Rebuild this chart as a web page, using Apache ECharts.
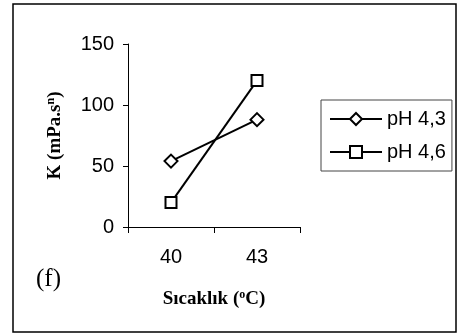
<!DOCTYPE html>
<html>
<head>
<meta charset="utf-8">
<script src="https://cdn.jsdelivr.net/npm/echarts@6/dist/echarts.min.js"></script>
<style>
  html, body { margin: 0; padding: 0; background: #fff; }
  #chart { width: 458px; height: 335px; }
</style>
</head>
<body>
<div id="chart"></div>
<script>
// Temperature categories (°C) and consistency coefficient K per pH level
const temperatures = ['40', '43'];
const kPh43 = [54, 88];
const kPh46 = [20, 120];
const seriesNames = ['pH 4,3', 'pH 4,6'];

const chart = echarts.init(document.getElementById('chart'), null, { renderer: 'canvas' });

const lineStyle = { color: '#000', width: 2 };
const markStyle = { color: '#fff', borderColor: '#000', borderWidth: 2 };
const serif = 'Liberation Serif, Times New Roman, serif';
const sans = 'Liberation Sans, Arial, sans-serif';

const richTitle = {
  b: { fontFamily: serif, fontWeight: 'bold', fontSize: 19, color: '#000' },
  sup: { fontFamily: serif, fontWeight: 'bold', fontSize: 12, color: '#000', verticalAlign: 'top', padding: [0, 0, 8, 0] }
};

chart.setOption({
  animation: false,
  backgroundColor: '#fff',
  graphic: [{
    type: 'rect',
    shape: { x: 13, y: 4, width: 443, height: 328 },
    style: { fill: 'none', stroke: '#000', lineWidth: 1.5 }
  }, {
    type: 'text',
    left: 36, top: 267,
    style: { text: '(f)', font: '25px "Liberation Serif", "Times New Roman", serif', fill: '#000' }
  }],
  grid: { left: 128, top: 44, right: 158, bottom: 108 },
  legend: {
    orient: 'vertical',
    left: 321, top: 100,
    padding: [9, 6, 9, 8],
    itemGap: 13,
    itemWidth: 52,
    itemHeight: 15,
    borderColor: '#444',
    borderWidth: 1,
    textStyle: { fontFamily: sans, fontSize: 20, color: '#000' },
    data: seriesNames
  },
  xAxis: {
    type: 'category',
    data: temperatures,
    boundaryGap: true,
    axisLine: { lineStyle: { color: '#000', width: 1 } },
    axisTick: { show: true, length: 6, lineStyle: { color: '#000' } },
    axisLabel: { margin: 20, fontFamily: sans, fontSize: 20, color: '#000' },
    name: '{b|Sıcaklık (}{sup|o}{b|C)}',
    nameLocation: 'middle',
    nameGap: 62,
    nameTextStyle: { rich: richTitle }
  },
  yAxis: {
    type: 'value',
    min: 0, max: 150, interval: 50,
    splitLine: { show: false },
    axisLine: { show: true, lineStyle: { color: '#000', width: 1 } },
    axisTick: { show: true, length: 5, lineStyle: { color: '#000' } },
    axisLabel: { margin: 14, fontFamily: sans, fontSize: 20, color: '#000' },
    name: '{b|K (mPa.s}{sup|n}{b|)}',
    nameLocation: 'middle',
    nameGap: 63,
    nameRotate: 90,
    nameTextStyle: { rich: richTitle }
  },
  series: [{
    name: seriesNames[0],
    type: 'line',
    data: kPh43,
    symbol: 'diamond',
    symbolSize: 13,
    lineStyle: lineStyle,
    itemStyle: markStyle,
    color: '#000'
  }, {
    name: seriesNames[1],
    type: 'line',
    data: kPh46,
    symbol: 'rect',
    symbolSize: 11,
    lineStyle: lineStyle,
    itemStyle: markStyle,
    color: '#000'
  }]
});
</script>
</body>
</html>
